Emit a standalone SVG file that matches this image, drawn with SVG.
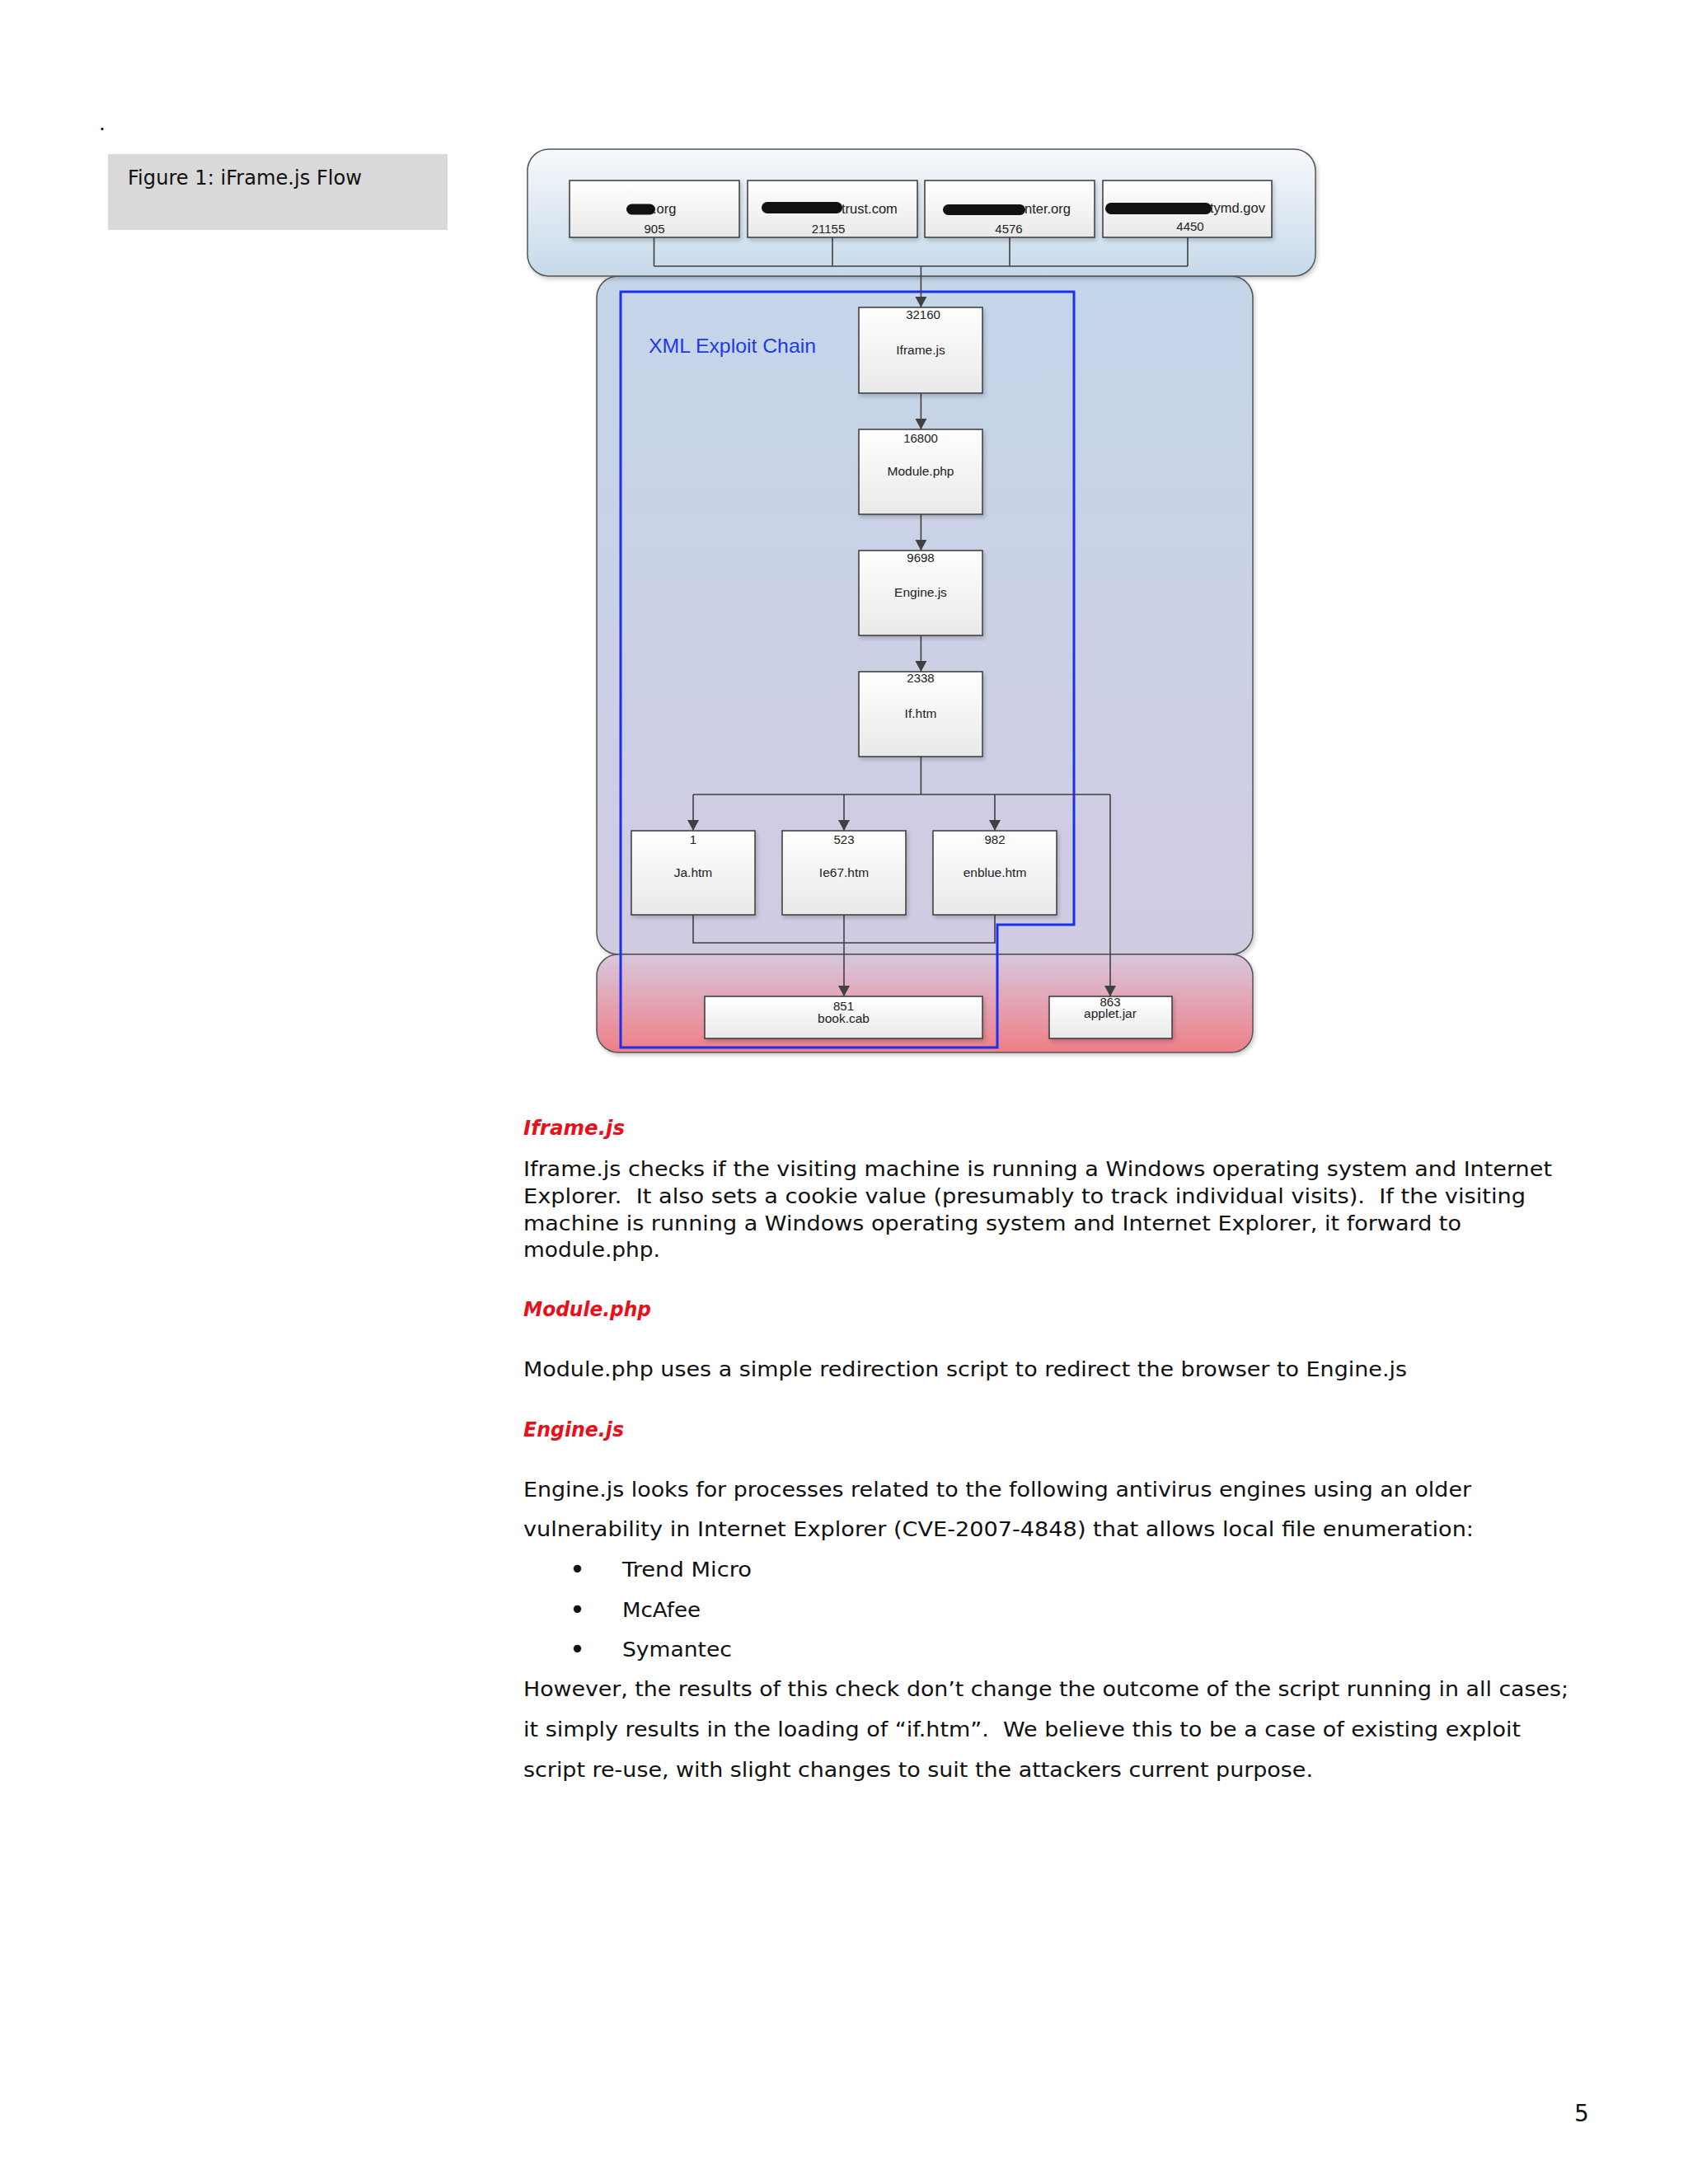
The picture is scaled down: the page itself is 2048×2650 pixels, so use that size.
<svg xmlns="http://www.w3.org/2000/svg" width="2048" height="2650" viewBox="0 0 2048 2650">
<style>
.body{font-family:"DejaVu Sans","Verdana",sans-serif;font-size:25px;fill:#111;white-space:pre}
.bul{font-family:"DejaVu Sans","Verdana",sans-serif;font-size:32px;fill:#111}
.head{font-family:"DejaVu Sans","Verdana",sans-serif;font-size:24px;font-weight:bold;font-style:italic;fill:#e8101a}
.lbl{font-family:"Liberation Sans",Arial,sans-serif;font-size:15.5px;fill:#222;text-anchor:middle}
.num{font-family:"Liberation Sans",Arial,sans-serif;font-size:15px;fill:#222;text-anchor:middle}
.dom{font-family:"Liberation Sans",Arial,sans-serif;font-size:16.5px;fill:#222}
.node{fill:url(#gNode);stroke:#3a3a3a;stroke-width:1.5}
.cont{stroke:#555;stroke-width:1.5}
.blob{fill:#111}
.conn{fill:none;stroke:#404040;stroke-width:1.6}
</style>
<defs>
<linearGradient id="gNode" x1="0" y1="0" x2="0" y2="1"><stop offset="0" stop-color="#ffffff"/><stop offset="1" stop-color="#e9e9e9"/></linearGradient>
<linearGradient id="gTop" x1="0" y1="0" x2="0" y2="1"><stop offset="0" stop-color="#f7f9fc"/><stop offset="1" stop-color="#c6d9ea"/></linearGradient>
<linearGradient id="gMid" x1="0" y1="0" x2="0" y2="1"><stop offset="0" stop-color="#c4d6e9"/><stop offset="1" stop-color="#d1cbe2"/></linearGradient>
<linearGradient id="gBot" x1="0" y1="0" x2="0" y2="1"><stop offset="0" stop-color="#d8c7dd"/><stop offset="1" stop-color="#ee7f87"/></linearGradient>
<filter id="sh" x="-5%" y="-5%" width="115%" height="125%"><feDropShadow dx="2" dy="3" stdDeviation="2.5" flood-color="#000" flood-opacity="0.2"/></filter>
<marker id="arr" markerUnits="userSpaceOnUse" markerWidth="16" markerHeight="16" viewBox="0 0 16 16" refX="14" refY="8" orient="auto"><path d="M1,1 L14,8 L1,15 z" fill="#404040"/></marker>
</defs>
<rect x="0" y="0" width="2048" height="2650" fill="#ffffff"/>

<!-- page header -->
<text class="body" x="120" y="158">.</text>
<g id="caption">
<rect x="131" y="187" width="412" height="92" fill="#d9d9d9"/>
<text class="body" x="155" y="224" style="font-size:24px" textLength="284" lengthAdjust="spacingAndGlyphs">Figure 1: iFrame.js Flow</text>
</g>

<!-- containers -->
<g id="container-mid"><rect class="cont" x="724" y="335" width="796" height="823" rx="26" fill="url(#gMid)" filter="url(#sh)"/></g>
<g id="container-bottom"><rect class="cont" x="724" y="1158" width="796" height="119" rx="26" fill="url(#gBot)" filter="url(#sh)"/></g>
<g id="container-top"><rect class="cont" x="640" y="181" width="956" height="154" rx="26" fill="url(#gTop)" filter="url(#sh)"/></g>

<!-- XML exploit chain frame -->
<g id="xml-exploit-chain">
<path d="M753,354 H1303 V1122 H1210 V1271 H753 Z" fill="none" stroke="#1a30ee" stroke-width="3"/>
<text x="787" y="428" font-family="Liberation Sans, Arial, sans-serif" font-size="24" fill="#1e3ae6" textLength="203" lengthAdjust="spacingAndGlyphs">XML Exploit Chain</text>
</g>

<!-- connectors -->
<g id="connectors">
<path class="conn" d="M793.5,288 V323 M1010,288 V323 M1225,288 V323 M1441,288 V323 M793.5,323 H1441"/>
<path class="conn" d="M1117.4,323 V373" marker-end="url(#arr)"/>
<path class="conn" d="M1117.4,477 V521" marker-end="url(#arr)"/>
<path class="conn" d="M1117.4,624 V668" marker-end="url(#arr)"/>
<path class="conn" d="M1117.4,771 V815" marker-end="url(#arr)"/>
<path class="conn" d="M1117.4,918 V964 M841,964 H1347"/>
<path class="conn" d="M841,964 V1008" marker-end="url(#arr)"/>
<path class="conn" d="M1024,964 V1008" marker-end="url(#arr)"/>
<path class="conn" d="M1207,964 V1008" marker-end="url(#arr)"/>
<path class="conn" d="M1347,964 V1209" marker-end="url(#arr)"/>
<path class="conn" d="M841,1110 V1144 H1207 V1110"/>
<path class="conn" d="M1024,1110 V1209" marker-end="url(#arr)"/>
</g>

<!-- top source nodes -->
<g id="src1">
<rect class="node" x="691" y="219" width="206" height="69" filter="url(#sh)"/>
<text class="dom" x="792" y="259">.org</text>
<rect class="blob" x="760" y="247.5" width="35" height="13" rx="6.5"/>
<text class="num" x="794" y="283">905</text>
</g>
<g id="src2">
<rect class="node" x="907" y="219" width="206" height="69" filter="url(#sh)"/>
<text class="dom" x="1021" y="259">trust.com</text>
<rect class="blob" x="924" y="245" width="98" height="14" rx="7"/>
<text class="num" x="1005" y="283">21155</text>
</g>
<g id="src3">
<rect class="node" x="1122" y="219" width="206" height="69" filter="url(#sh)"/>
<text class="dom" x="1243" y="259">nter.org</text>
<rect class="blob" x="1144" y="248" width="100" height="13" rx="6.5"/>
<text class="num" x="1224" y="283">4576</text>
</g>
<g id="src4">
<rect class="node" x="1338" y="219" width="205" height="69" filter="url(#sh)"/>
<text class="dom" x="1468" y="258">tymd.gov</text>
<rect class="blob" x="1341" y="246" width="129" height="14" rx="7"/>
<text class="num" x="1444" y="279.5">4450</text>
</g>

<!-- chain nodes -->
<g id="iframe-js">
<rect class="node" x="1042" y="373" width="150" height="104" filter="url(#sh)"/>
<text class="num" x="1120" y="387">32160</text>
<text class="lbl" x="1117" y="430">Iframe.js</text>
</g>
<g id="module-php">
<rect class="node" x="1042" y="521" width="150" height="103" filter="url(#sh)"/>
<text class="num" x="1117" y="537">16800</text>
<text class="lbl" x="1117" y="577">Module.php</text>
</g>
<g id="engine-js">
<rect class="node" x="1042" y="668" width="150" height="103" filter="url(#sh)"/>
<text class="num" x="1117" y="682">9698</text>
<text class="lbl" x="1117" y="724">Engine.js</text>
</g>
<g id="if-htm">
<rect class="node" x="1042" y="815" width="150" height="103" filter="url(#sh)"/>
<text class="num" x="1117" y="828">2338</text>
<text class="lbl" x="1117" y="871">If.htm</text>
</g>
<g id="ja-htm">
<rect class="node" x="766" y="1008" width="150" height="102" filter="url(#sh)"/>
<text class="num" x="841" y="1024">1</text>
<text class="lbl" x="841" y="1064">Ja.htm</text>
</g>
<g id="ie67-htm">
<rect class="node" x="949" y="1008" width="150" height="102" filter="url(#sh)"/>
<text class="num" x="1024" y="1024">523</text>
<text class="lbl" x="1024" y="1064">Ie67.htm</text>
</g>
<g id="enblue-htm">
<rect class="node" x="1132" y="1008" width="150" height="102" filter="url(#sh)"/>
<text class="num" x="1207" y="1024">982</text>
<text class="lbl" x="1207" y="1064">enblue.htm</text>
</g>
<g id="book-cab">
<rect class="node" x="855" y="1209" width="337" height="51" filter="url(#sh)"/>
<text class="num" x="1023.5" y="1226">851</text>
<text class="lbl" x="1023.5" y="1241">book.cab</text>
</g>
<g id="applet-jar">
<rect class="node" x="1273" y="1209" width="149" height="51" filter="url(#sh)"/>
<text class="num" x="1347" y="1221">863</text>
<text class="lbl" x="1347" y="1235">applet.jar</text>
</g>

<!-- body text -->
<g id="text-body">
<text class="head" x="635" y="1377" textLength="123" lengthAdjust="spacingAndGlyphs">Iframe.js</text>
<text class="body" x="635" y="1427" textLength="1248" lengthAdjust="spacingAndGlyphs">Iframe.js checks if the visiting machine is running a Windows operating system and Internet</text>
<text class="body" x="635" y="1460" textLength="1216" lengthAdjust="spacingAndGlyphs">Explorer.  It also sets a cookie value (presumably to track individual visits).  If the visiting</text>
<text class="body" x="635" y="1492.5" textLength="1138" lengthAdjust="spacingAndGlyphs">machine is running a Windows operating system and Internet Explorer, it forward to</text>
<text class="body" x="635" y="1525" textLength="166" lengthAdjust="spacingAndGlyphs">module.php.</text>

<text class="head" x="635" y="1597" textLength="155" lengthAdjust="spacingAndGlyphs">Module.php</text>
<text class="body" x="635" y="1670" textLength="1072" lengthAdjust="spacingAndGlyphs">Module.php uses a simple redirection script to redirect the browser to Engine.js</text>

<text class="head" x="635" y="1743" textLength="122" lengthAdjust="spacingAndGlyphs">Engine.js</text>
<text class="body" x="635" y="1816" textLength="1150" lengthAdjust="spacingAndGlyphs">Engine.js looks for processes related to the following antivirus engines using an older</text>
<text class="body" x="635" y="1864" textLength="1153" lengthAdjust="spacingAndGlyphs">vulnerability in Internet Explorer (CVE-2007-4848) that allows local file enumeration:</text>

<text class="bul" x="691" y="1915">•</text>
<text class="body" x="755" y="1913" textLength="157" lengthAdjust="spacingAndGlyphs">Trend Micro</text>
<text class="bul" x="691" y="1964">•</text>
<text class="body" x="755" y="1962" textLength="95" lengthAdjust="spacingAndGlyphs">McAfee</text>
<text class="bul" x="691" y="2012">•</text>
<text class="body" x="755" y="2010" textLength="133" lengthAdjust="spacingAndGlyphs">Symantec</text>

<text class="body" x="635" y="2058" textLength="1268" lengthAdjust="spacingAndGlyphs">However, the results of this check don’t change the outcome of the script running in all cases;</text>
<text class="body" x="635" y="2107" textLength="1210" lengthAdjust="spacingAndGlyphs">it simply results in the loading of “if.htm”.  We believe this to be a case of existing exploit</text>
<text class="body" x="635" y="2156" textLength="958" lengthAdjust="spacingAndGlyphs">script re-use, with slight changes to suit the attackers current purpose.</text>
</g>

<text class="body" x="1910" y="2574" style="font-size:28px">5</text>
</svg>
